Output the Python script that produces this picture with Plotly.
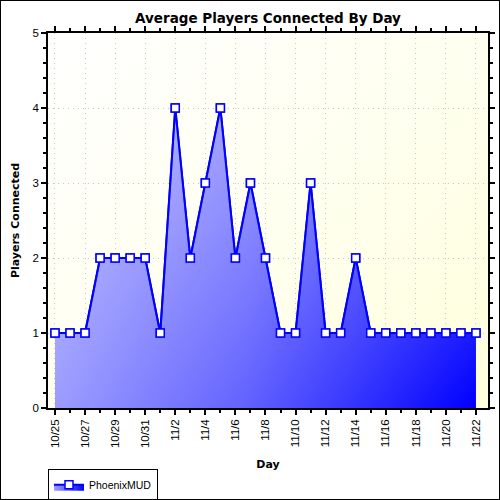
import base64
import plotly.graph_objects as go

# Tageswerte (durchschnittlich verbundene Spieler)
days = ["10/25", "10/26", "10/27", "10/28", "10/29", "10/30", "10/31",
        "11/1", "11/2", "11/3", "11/4", "11/5", "11/6", "11/7", "11/8",
        "11/9", "11/10", "11/11", "11/12", "11/13", "11/14", "11/15",
        "11/16", "11/17", "11/18", "11/19", "11/20", "11/21", "11/22"]
players = [1, 1, 1, 2, 2, 2, 2,
           1, 4, 2, 3, 4, 2, 3, 2,
           1, 1, 3, 1, 1, 2, 1,
           1, 1, 1, 1, 1, 1, 1]
series_name = "PhoenixMUD"

x_idx = list(range(len(days)))

# Hintergrund-Verlauf als SVG (kein Netz noetig)
svg = ('<svg xmlns="http://www.w3.org/2000/svg" width="100" height="100" preserveAspectRatio="none">'
       '<defs><linearGradient id="g" x1="0" y1="0" x2="1" y2="1">'
       '<stop offset="0" stop-color="#ffffff"/><stop offset="0.5" stop-color="#fffff0"/>'
       '<stop offset="1" stop-color="#ffffdc"/></linearGradient></defs>'
       '<rect width="100" height="100" fill="url(#g)"/></svg>')
bg_src = "data:image/svg+xml;base64," + base64.b64encode(svg.encode()).decode()

tick_font = dict(family="Liberation Sans", size=11.5, color="black")
title_font = dict(family="DejaVu Sans", size=11, color="black")

line_style = dict(color="#0000ff", width=2)
marker_style = dict(symbol="square", size=8, color="white",
                    line=dict(color="#0000ff", width=1.5))

fig = go.Figure()
# Flaeche mit horizontalem Verlauf (+ Legendeneintrag)
fig.add_trace(go.Scatter(
    x=x_idx, y=players, name=series_name,
    mode="lines+markers", line=line_style, marker=marker_style,
    fill="tozeroy",
    fillgradient=dict(type="horizontal",
                      colorscale=[[0, "#9c9cff"], [0.45, "#6262ff"], [1, "#0000ff"]]),
))
# heller Schleier nach oben -> wirkt wie diagonaler Verlauf
fig.add_trace(go.Scatter(
    x=x_idx, y=players, mode="none", showlegend=False, hoverinfo="skip",
    fill="tozeroy",
    fillgradient=dict(type="vertical",
                      colorscale=[[0, "rgba(255,255,255,0)"], [1, "rgba(255,255,255,0.4)"]]),
))
# Linie und Punkte nochmal obenauf
fig.add_trace(go.Scatter(
    x=x_idx, y=players, mode="lines+markers", showlegend=False,
    line=line_style, marker=marker_style, name=series_name,
))

axis_common = dict(
    showline=True, linecolor="black", linewidth=1.5,
    mirror="allticks", ticks="outside", ticklen=5, tickwidth=1.5, tickcolor="black",
    showgrid=True, gridcolor="#c8c8c8", griddash="1px,4px", gridwidth=1,
    zeroline=False, automargin=False,
    tickfont=tick_font,
)

fig.update_xaxes(
    **axis_common,
    range=[-0.465, 28.8],
    tickvals=x_idx[::2], ticktext=days[::2], tickangle=-90,
    minor=dict(dtick=1, tick0=0, ticks="outside", ticklen=3, tickwidth=1.5,
               tickcolor="black", showgrid=False),
    title=dict(text="<b>Day</b>", font=title_font, standoff=13),
)
fig.update_yaxes(
    **axis_common,
    range=[0, 5], dtick=1,
    minor=dict(dtick=0.2, ticks="outside", ticklen=3, tickwidth=1.5,
               tickcolor="black", showgrid=False),
    title=dict(text="<b>Players Connected</b>", font=title_font, standoff=11),
)

fig.update_layout(
    width=500, height=500,
    margin=dict(l=48, r=12, t=33, b=92, autoexpand=False),
    paper_bgcolor="white", plot_bgcolor="#ffffe8",
    title=dict(text="<b>Average Players Connected By Day</b>", x=268 / 500, xanchor="center",
               y=1 - 18 / 500, yanchor="middle",
               font=dict(family="DejaVu Sans", size=13.5, color="black")),
    showlegend=True,
    legend=dict(x=0, xanchor="left", y=-0.163, yanchor="top", orientation="h",
                bordercolor="black", borderwidth=1, bgcolor="white",
                font=dict(family="Liberation Sans", size=10.5, color="black"),
                itemwidth=30),
    images=[dict(source=bg_src, xref="paper", yref="paper", x=0, y=1, sizex=1, sizey=1,
                 sizing="stretch", layer="below")],
    shapes=[dict(type="rect", xref="paper", yref="paper",
                 x0=-48 / 440, x1=1 + 12 / 440, y0=-92 / 375, y1=1 + 33 / 375,
                 line=dict(color="black", width=2), layer="above")],
)

# Seitenrand des Browsers entfernen, damit die Grafik bei (0,0) beginnt
fig.write_html("out.html", config={"displayModeBar": False},
               post_script="document.body.style.margin='0';")
